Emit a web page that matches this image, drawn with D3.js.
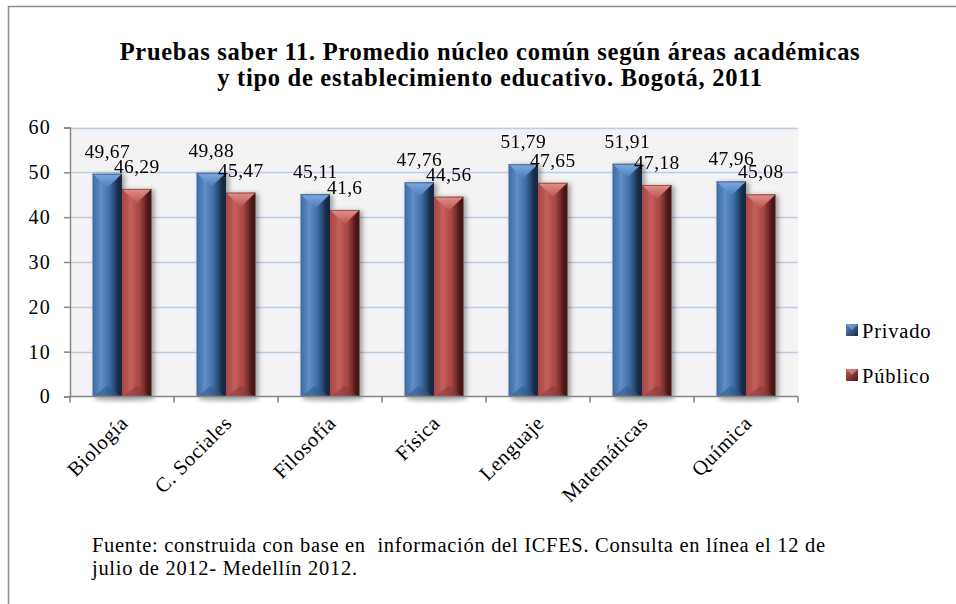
<!DOCTYPE html>
<html>
<head>
<meta charset="utf-8">
<script src="https://cdn.jsdelivr.net/npm/d3@7"></script>
<style>
  html, body { margin: 0; padding: 0; background: #ffffff; }
  svg { display: block; }
  text { font-family: "Liberation Serif", "Times New Roman", serif; fill: #000; white-space: pre; }
</style>
</head>
<body>
<svg id="chart" width="956" height="604"></svg>
<script>
const categories = ["Biología", "C. Sociales", "Filosofía", "Física", "Lenguaje", "Matemáticas", "Química"];
const privado = [49.67, 49.88, 45.11, 47.76, 51.79, 51.91, 47.96];
const publico = [46.29, 45.47, 41.6, 44.56, 47.65, 47.18, 45.08];
const seriesNames = ["Privado", "Público"];
const yTicks = [0, 10, 20, 30, 40, 50, 60];
const titleLines = [
  "Pruebas saber 11. Promedio núcleo común según áreas académicas",
  "y tipo de establecimiento educativo. Bogotá, 2011"
];
const sourceLines = [
  "Fuente: construida con base en  información del ICFES. Consulta en línea el 12 de",
  "julio de 2012- Medellín 2012."
];

const svg = d3.select("#chart");
const plot = { left: 70, right: 798, top: 127.5, bottom: 396.5 };

const series = [
  { name: seriesNames[0], values: privado, base: "#3c6aa3", light: "#5f8fca", dark: "#162a44", topLight: "#7eaae0", topMid: "#4d7cb8", bottomTri: "#33577f", key: "blue" },
  { name: seriesNames[1], values: publico, base: "#a84643", light: "#c45f5a", dark: "#4a1716", topLight: "#e4908a", topMid: "#bb5550", bottomTri: "#85393a", key: "red" }
];

const defs = svg.append("defs");
series.forEach(s => {
  const g = defs.append("linearGradient").attr("id", "body-" + s.key)
    .attr("x1", "0").attr("x2", "1").attr("y1", "0").attr("y2", "0");
  g.append("stop").attr("offset", "0").attr("stop-color", s.base);
  g.append("stop").attr("offset", "0.3").attr("stop-color", s.light);
  g.append("stop").attr("offset", "0.6").attr("stop-color", s.base);
  g.append("stop").attr("offset", "0.88").attr("stop-color", s.dark);
  g.append("stop").attr("offset", "1").attr("stop-color", s.dark);
  const t = defs.append("linearGradient").attr("id", "top-" + s.key)
    .attr("x1", "0").attr("x2", "0").attr("y1", "0").attr("y2", "1");
  t.append("stop").attr("offset", "0").attr("stop-color", s.topLight);
  t.append("stop").attr("offset", "1").attr("stop-color", s.topMid);
  const lg = defs.append("linearGradient").attr("id", "leg-" + s.key)
    .attr("x1", "0").attr("x2", "1").attr("y1", "0").attr("y2", "1");
  lg.append("stop").attr("offset", "0").attr("stop-color", s.light);
  lg.append("stop").attr("offset", "1").attr("stop-color", s.dark);
});
const flt = defs.append("filter").attr("id", "shadow")
  .attr("x", "-30%").attr("y", "-10%").attr("width", "170%").attr("height", "130%");
flt.append("feDropShadow").attr("dx", 3).attr("dy", 1).attr("stdDeviation", 2.5)
  .attr("flood-color", "#000").attr("flood-opacity", 0.35);
const blur = defs.append("filter").attr("id", "baseblur").attr("x", "-20%").attr("y", "-100%").attr("width", "140%").attr("height", "300%");
blur.append("feGaussianBlur").attr("stdDeviation", 2);

// outer border (top and left visible)
svg.append("rect").attr("x", 8.5).attr("y", 6.5).attr("width", 1200).attr("height", 1200)
  .attr("fill", "#ffffff").attr("stroke", "#8c8c8c").attr("stroke-width", 1.5);

// helper: letter-spacing needed to reach a target width
function fitSpacing(sel, target) {
  const node = sel.node();
  const len = node.getComputedTextLength();
  const n = node.textContent.length;
  return Math.max(0, (target - len) / (n - 1));
}

// title
const titleText = svg.append("g").selectAll("text").data(titleLines).join("text")
  .attr("x", 490).attr("y", (d, i) => 60 + i * 26)
  .attr("text-anchor", "middle").attr("font-weight", "bold").attr("font-size", 24.5)
  .text(d => d);
const tls = fitSpacing(d3.select(titleText.nodes()[0]), 740);
titleText.attr("letter-spacing", tls);

// scales
const x0 = d3.scaleBand().domain(categories).range([plot.left, plot.right]).padding(0);
const x1 = d3.scaleBand().domain(seriesNames).range([22.5, 81.5]).padding(0);
const y = d3.scaleLinear().domain([0, 60]).range([plot.bottom, plot.top]);

// plot area
svg.append("rect").attr("x", plot.left).attr("y", plot.top)
  .attr("width", plot.right - plot.left).attr("height", plot.bottom - plot.top)
  .attr("fill", "#f3f3f3");

// gridlines
svg.append("g").selectAll("line").data(yTicks.filter(d => d > 0)).join("line")
  .attr("x1", plot.left).attr("x2", plot.right)
  .attr("y1", d => Math.round(y(d)) + 0.5).attr("y2", d => Math.round(y(d)) + 0.5)
  .attr("stroke", "#b9cde5").attr("stroke-width", 1.5);

// base shadows under bars
svg.append("g").selectAll("ellipse").data(categories).join("ellipse")
  .attr("cx", d => x0(d) + x0.bandwidth() / 2 + 2)
  .attr("cy", plot.bottom + 2)
  .attr("rx", 31).attr("ry", 2.5)
  .attr("fill", "#8a8a8a").attr("opacity", 0.55).attr("filter", "url(#baseblur)");

// bars
const barsG = svg.append("g");
series.forEach(s => {
  const g = barsG.append("g").attr("filter", "url(#shadow)");
  const bw = x1.bandwidth();
  const data = categories.map((c, i) => ({ c, v: s.values[i] }));
  const grp = g.selectAll("g").data(data).join("g")
    .attr("transform", d => `translate(${x0(d.c) + x1(s.name)},0)`);
  grp.append("rect")
    .attr("x", 0).attr("y", d => y(d.v))
    .attr("width", bw).attr("height", d => plot.bottom - y(d.v))
    .attr("fill", `url(#body-${s.key})`);
  grp.append("path")
    .attr("d", d => `M0,${y(d.v)} L${bw},${y(d.v)} L${bw / 2},${y(d.v) + 14} Z`)
    .attr("fill", `url(#top-${s.key})`);
  grp.append("path")
    .attr("d", d => `M1,${plot.bottom} L${bw - 1},${plot.bottom} L${bw / 2},${plot.bottom - 11} Z`)
    .attr("fill", s.bottomTri).attr("opacity", 0.55);
  grp.append("line")
    .attr("x1", 0).attr("x2", bw).attr("y1", d => y(d.v) + 0.5).attr("y2", d => y(d.v) + 0.5)
    .attr("stroke", s.dark).attr("stroke-opacity", 0.5);
});

// axes
const yAxis = d3.axisLeft(y).tickValues(yTicks).tickSize(6).tickPadding(13).tickFormat(d3.format("d"));
const yg = svg.append("g").attr("transform", `translate(${plot.left},0)`).call(yAxis);
yg.select(".domain").attr("stroke", "#868686").attr("stroke-width", 1.5);
yg.selectAll(".tick line").attr("stroke", "#868686").attr("stroke-width", 1.5);
yg.selectAll(".tick text").attr("font-size", 20).attr("letter-spacing", 1.2)
  .attr("font-family", "Liberation Serif").attr("fill", "#000");

const xg = svg.append("g").attr("transform", `translate(0,${plot.bottom})`);
xg.append("line").attr("x1", plot.left).attr("x2", plot.right).attr("y1", 0).attr("y2", 0)
  .attr("stroke", "#868686").attr("stroke-width", 1.5);
const boundaries = categories.map(c => x0(c)).concat([x0(categories[categories.length - 1]) + x0.bandwidth()]);
xg.selectAll("line.tk").data(boundaries).join("line").attr("class", "tk")
  .attr("x1", d => d).attr("x2", d => d).attr("y1", 0).attr("y2", 6)
  .attr("stroke", "#868686").attr("stroke-width", 1.5);
xg.selectAll("text").data(categories).join("text")
  .attr("transform", d => `translate(${x0(d) + x0.bandwidth() / 2 + 7},${28}) rotate(-45)`)
  .attr("text-anchor", "end").attr("font-size", 20.5).attr("letter-spacing", 0.6)
  .text(d => d);

// data labels
const fmt = v => String(v).replace(".", ",");
series.forEach(s => {
  svg.append("g").selectAll("text").data(categories.map((c, i) => ({ c, v: s.values[i] }))).join("text")
    .attr("x", d => x0(d.c) + x1(s.name) + x1.bandwidth() / 2)
    .attr("y", d => y(d.v) - 16)
    .attr("text-anchor", "middle").attr("font-size", 19.5).attr("letter-spacing", 0.3)
    .text(d => fmt(d.v));
});

// legend
const leg = svg.append("g").selectAll("g").data(series).join("g")
  .attr("transform", (d, i) => `translate(846,${324 + i * 45})`);
leg.append("rect").attr("width", 12).attr("height", 12).attr("fill", d => `url(#leg-${d.key})`);
leg.append("path").attr("d", "M0,0 L12,0 L6,6 Z").attr("fill", d => d.topLight).attr("opacity", 0.7);
leg.append("text").attr("x", 16).attr("y", 14).attr("font-size", 20.5).attr("letter-spacing", 0.8)
  .text(d => d.name);

// source note
const src = svg.append("g").selectAll("text").data(sourceLines).join("text")
  .attr("x", 92).attr("y", (d, i) => 552 + i * 23)
  .attr("font-size", 20.5).text(d => d);
const sls = fitSpacing(d3.select(src.nodes()[0]), 733);
src.attr("letter-spacing", sls);
</script>
</body>
</html>
